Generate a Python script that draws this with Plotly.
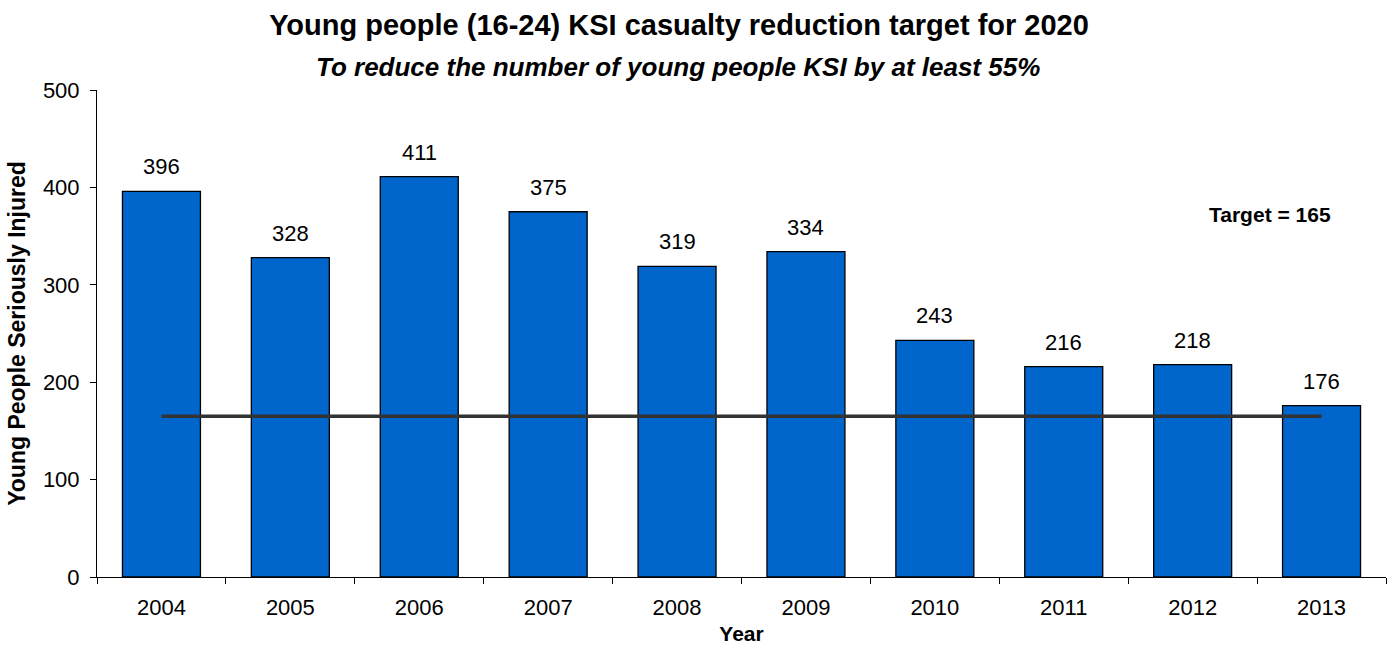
import plotly.graph_objects as go

years = ["2004", "2005", "2006", "2007", "2008", "2009", "2010", "2011", "2012", "2013"]
casualties = [396, 328, 411, 375, 319, 334, 243, 216, 218, 176]
target_value = 165
target_line = [target_value] * len(years)

title_text = "Young people (16-24) KSI casualty reduction target for 2020"
subtitle_text = "To reduce the number of young people KSI by at least 55%"

FONT = "Liberation Sans, Arial, sans-serif"

fig = go.Figure()
fig.add_trace(go.Bar(
    x=years, y=casualties,
    marker=dict(color="#0066CC", line=dict(color="#000000", width=1.3)),
    width=0.605,
    hoverinfo="x+y",
))
fig.add_trace(go.Scatter(
    x=years, y=target_line, mode="lines",
    line=dict(color="#333333", width=3.5),
    hoverinfo="skip",
))

annotations = []
for i, v in enumerate(casualties):
    annotations.append(dict(
        x=i, y=v, xref="x", yref="y", text=str(v), showarrow=False,
        yanchor="bottom", yshift=10, font=dict(family=FONT, size=22, color="#000"),
    ))
annotations.append(dict(
    x=1270, y=214, xref="paper", yref="paper", text="<b>Target = " + str(target_value) + "</b>",
    showarrow=False, xanchor="center", yanchor="middle",
    font=dict(family=FONT, size=21, color="#000"),
))
annotations.append(dict(
    x=678, y=67, xref="paper", yref="paper", xanchor="center", yanchor="middle",
    text="<b><i>" + subtitle_text + "</i></b>", showarrow=False,
    font=dict(family=FONT, size=26, color="#000"),
))

W, H = 1397, 645
L, R, T, B = 97, 11, 90, 68
pw, ph = W - L - R, H - T - B
for a in annotations[-2:]:
    a["x"] = (a["x"] - L) / pw
    a["y"] = (H - B - a["y"]) / ph

fig.update_layout(
    width=W, height=H,
    margin=dict(l=L, r=R, t=T, b=B),
    paper_bgcolor="white", plot_bgcolor="white",
    showlegend=False,
    title=dict(text="<b>" + title_text + "</b>", x=679 / W, xanchor="center",
               y=1 - 25 / H, yanchor="middle", xref="container", yref="container",
               font=dict(family=FONT, size=29, color="#000")),
    xaxis=dict(
        type="category", range=[-0.5, 9.5], showline=True, linecolor="#000", linewidth=1,
        ticks="outside", tickson="boundaries", ticklen=6, tickcolor="#000",
        ticklabelstandoff=11, automargin=False,
        tickfont=dict(family=FONT, size=22, color="#000"),
        title=dict(text="<b>Year</b>", font=dict(family=FONT, size=21, color="#000"), standoff=7),
        showgrid=False, fixedrange=True,
    ),
    yaxis=dict(
        range=[0, 500], dtick=100, showline=True, linecolor="#000", linewidth=1,
        ticks="outside", ticklen=6, tickcolor="#000", ticklabelstandoff=6, automargin=False,
        tickfont=dict(family=FONT, size=22, color="#000"),
        title=dict(text="<b>Young People Seriously Injured</b>",
                   font=dict(family=FONT, size=23, color="#000"), standoff=10),
        showgrid=False, zeroline=False, fixedrange=True,
    ),
    annotations=annotations,
)

fig.write_html("out.html")
